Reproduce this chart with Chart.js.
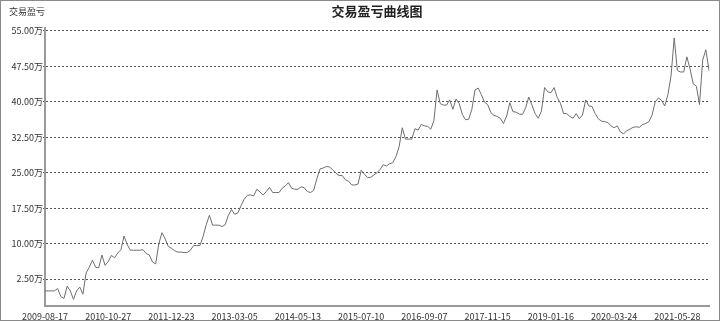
<!DOCTYPE html>
<html>
<head>
<meta charset="utf-8">
<script src="https://cdn.jsdelivr.net/npm/chart.js@4.4.1/dist/chart.umd.min.js"></script>
<style>
  html, body { margin: 0; padding: 0; background: #fff; }
  #box { width: 718px; height: 319px; border: 1px solid #8a8a8a; position: relative; }
</style>
</head>
<body>
<div id="box"><canvas id="line-chart" width="718" height="319"></canvas></div>
<script>
// tick labels on the x axis, one every 20 samples
var tickDates = ['2009-08-17', '2010-10-27', '2011-12-23', '2013-03-05', '2014-05-13', '2015-07-10',
                 '2016-09-07', '2017-11-15', '2019-01-16', '2020-03-24', '2021-05-28'];
var stepPts = 20;

// y axis ticks (unit: 万)
var yTicks = [2.5, 10, 17.5, 25, 32.5, 40, 47.5, 55];

// 交易盈亏 (unit: 万)
var profit = [
  0, 0, 0, 0, 0.5, -1.2, -1.6, 1.0, 0.0, -1.8,
  0.0, 0.8, -0.7, 3.8, 5.0, 6.5, 5.0, 4.9, 7.6, 5.4,
  6.2, 7.5, 7.0, 8.0, 8.7, 11.6, 9.8, 8.6, 8.6, 8.6,
  8.6, 8.7, 7.9, 7.6, 6.1, 5.7, 10.0, 12.3, 11.0, 9.4,
  9.0, 8.5, 8.2, 8.2, 8.1, 8.1, 8.6, 9.6, 9.6, 9.6,
  11.5, 14.0, 16.0, 13.9, 13.9, 13.9, 13.6, 14.0, 16.0, 17.2,
  16.2, 16.5, 18.0, 19.4, 20.2, 20.3, 20.1, 21.5, 20.9, 20.3,
  21.0, 21.9, 20.8, 20.8, 20.8, 21.7, 22.2, 22.9, 21.7, 21.5,
  21.5, 22.0, 21.8, 21.0, 20.8, 21.3, 23.8, 25.8, 26.0, 26.3,
  26.2, 25.6, 24.9, 24.4, 24.4, 23.5, 23.2, 22.4, 22.4, 22.6,
  25.5, 24.7, 24.0, 24.0, 24.5, 25.0, 25.7, 26.7, 26.4, 26.9,
  27.1, 28.4, 30.5, 34.5, 32.1, 32.1, 32.1, 34.3, 34.0, 35.2,
  34.9, 34.8, 34.2, 36.0, 42.5, 39.6, 39.3, 39.3, 40.4, 38.4,
  40.6, 39.6, 37.3, 36.2, 36.3, 38.4, 42.5, 42.9, 41.5, 39.9,
  39.4, 37.7, 37.1, 36.9, 36.5, 35.4, 37.0, 39.8, 37.9, 37.8,
  37.4, 37.3, 38.7, 41.0, 39.3, 37.5, 36.5, 38.0, 43.0, 42.1,
  41.9, 43.0, 40.9, 39.7, 37.5, 37.5, 36.9, 36.5, 37.5, 36.4,
  37.2, 40.4, 39.1, 39.0, 37.5, 36.4, 35.9, 35.8, 35.6, 34.9,
  34.5, 34.9, 33.6, 33.2, 33.9, 34.2, 34.6, 34.7, 34.6, 35.2,
  35.4, 35.8, 37.2, 40.0, 40.8, 40.3, 39.1, 41.5, 45.5, 53.5,
  46.6, 46.3, 46.3, 49.5, 47.0, 43.8, 43.3, 39.4, 48.8, 51.0, 46.6
];

var FONT = '"Noto Sans CJK SC", "Noto Sans", sans-serif';

// x labels: date only where a tick goes
function buildLabels(n) {
    var labels = [];
    for (var i = 0; i < n; i++) {
        labels.push(i % stepPts === 0 && tickDates[i / stepPts] ? tickDates[i / stepPts] : '');
    }
    return labels;
}

// small caption "交易盈亏" at top left
var axisCaption = {
    id: 'axisCaption',
    afterDraw: function (chart) {
        var ctx = chart.ctx;
        ctx.save();
        ctx.font = '9px ' + FONT;
        ctx.fillStyle = '#333';
        ctx.textBaseline = 'middle';
        ctx.textAlign = 'left';
        ctx.fillText('交易盈亏', 8, 11);
        ctx.restore();
    }
};

new Chart(document.getElementById('line-chart'), {
    type: 'line',
    data: {
        labels: buildLabels(profit.length),
        datasets: [{
            data: profit,
            borderColor: '#6e6e6e',
            borderWidth: 1,
            pointRadius: 0,
            tension: 0,
            fill: false
        }]
    },
    options: {
        responsive: false,
        animation: false,
        layout: { padding: { top: 0, right: 10, left: 0, bottom: 0 } },
        plugins: {
            legend: { display: false },
            tooltip: { enabled: false },
            title: {
                display: true,
                fullSize: false,
                text: '交易盈亏曲线图',
                color: '#222',
                font: { family: FONT, size: 13, weight: 'bold', lineHeight: 1.2 },
                padding: { top: 2, bottom: 9.4 }
            }
        },
        scales: {
            x: {
                type: 'category',
                grid: { display: false, drawTicks: false },
                border: { display: true, color: '#9a9a9a', width: 2 },
                ticks: {
                    autoSkip: false,
                    maxRotation: 0,
                    minRotation: 0,
                    padding: 5,
                    color: '#333',
                    font: { family: FONT, size: 9 }
                },
                afterFit: function (s) { s.height = 14; }
            },
            y: {
                min: -3.2,
                max: 55.6,
                grid: { color: '#555', lineWidth: 1, tickLength: 2, drawTicks: true },
                border: { display: true, color: '#9a9a9a', width: 2, dash: [2, 2] },
                afterBuildTicks: function (s) {
                    s.ticks = yTicks.map(function (v) { return { value: v }; });
                },
                ticks: {
                    padding: 0,
                    color: '#333',
                    font: { family: FONT, size: 9 },
                    callback: function (v) { return v.toFixed(2) + '万'; }
                },
                afterFit: function (s) { s.width = 44; }
            }
        }
    },
    plugins: [axisCaption]
});
</script>
</body>
</html>
